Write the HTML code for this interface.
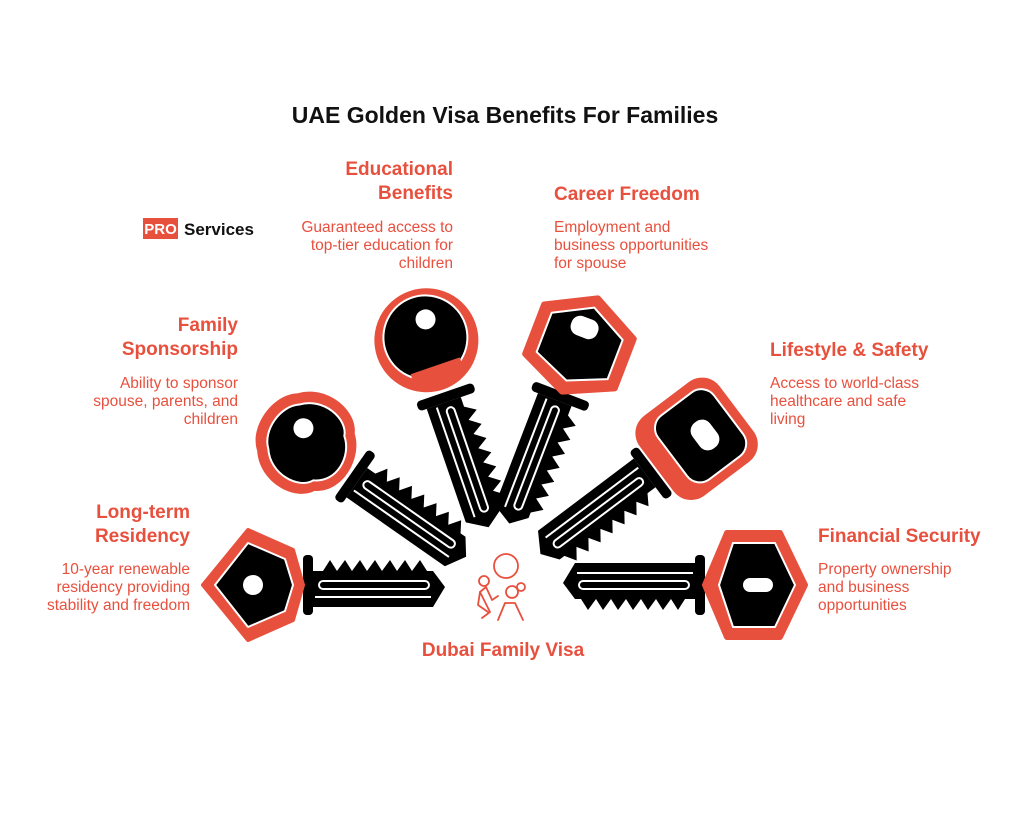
<!DOCTYPE html>
<html><head><meta charset="utf-8"><style>
html,body{margin:0;padding:0;background:#fff;}
svg{display:block;}
text{font-family:"Liberation Sans",sans-serif;}
.h{fill:#e8503e;font-size:19px;font-weight:bold;}
.b{fill:#e8503e;font-size:15.5px;}
</style></head><body>
<svg width="1009" height="826" viewBox="0 0 1009 826" xmlns="http://www.w3.org/2000/svg">
<defs>
<g id="blade">
  <rect x="50" y="-30" width="10" height="60" rx="4" fill="#000"/>
  <path d="M60,-14 L70,-14 L77,-25 L84,-14 L92,-25 L99,-14 L107,-25 L114,-14 L122,-25 L129,-14 L137,-25 L144,-14 L152,-25 L159,-14 L167,-25 L174,-14 L180,-14 L192,2 L180,22 L60,22 Z" fill="#000"/>
  <rect x="66" y="-4" width="110" height="8" rx="4" fill="none" stroke="#fff" stroke-width="2"/>
  <line x1="62" y1="12" x2="178" y2="12" stroke="#fff" stroke-width="2"/>
</g>
</defs>

<text x="505" y="123" text-anchor="middle" font-size="23" font-weight="bold" fill="#111">UAE Golden Visa Benefits For Families</text>

<!-- logo -->
<rect x="143" y="218" width="35" height="21" fill="#e8503e"/>
<text x="160.5" y="234" text-anchor="middle" font-size="15" font-weight="bold" fill="#fff">PRO</text>
<text x="184" y="235" font-size="17" font-weight="bold" fill="#111">Services</text>

<!-- texts -->
<text class="h" x="453" y="175" text-anchor="end">Educational</text>
<text class="h" x="453" y="199" text-anchor="end">Benefits</text>
<text class="b" x="453" y="232" text-anchor="end">Guaranteed access to</text>
<text class="b" x="453" y="250" text-anchor="end">top-tier education for</text>
<text class="b" x="453" y="268" text-anchor="end">children</text>

<text class="h" x="554" y="200">Career Freedom</text>
<text class="b" x="554" y="232">Employment and</text>
<text class="b" x="554" y="250">business opportunities</text>
<text class="b" x="554" y="268">for spouse</text>

<text class="h" x="238" y="331" text-anchor="end">Family</text>
<text class="h" x="238" y="355" text-anchor="end">Sponsorship</text>
<text class="b" x="238" y="388" text-anchor="end">Ability to sponsor</text>
<text class="b" x="238" y="406" text-anchor="end">spouse, parents, and</text>
<text class="b" x="238" y="424" text-anchor="end">children</text>

<text class="h" x="770" y="356">Lifestyle &amp; Safety</text>
<text class="b" x="770" y="388">Access to world-class</text>
<text class="b" x="770" y="406">healthcare and safe</text>
<text class="b" x="770" y="424">living</text>

<text class="h" x="190" y="518" text-anchor="end">Long-term</text>
<text class="h" x="190" y="542" text-anchor="end">Residency</text>
<text class="b" x="190" y="574" text-anchor="end">10-year renewable</text>
<text class="b" x="190" y="592" text-anchor="end">residency providing</text>
<text class="b" x="190" y="610" text-anchor="end">stability and freedom</text>

<text class="h" x="818" y="542">Financial Security</text>
<text class="b" x="818" y="574">Property ownership</text>
<text class="b" x="818" y="592">and business</text>
<text class="b" x="818" y="610">opportunities</text>

<text class="h" x="503" y="656" text-anchor="middle">Dubai Family Visa</text>

<!-- key 1 bottom-left diamond -->
<g transform="translate(253,585) rotate(0)">
  <use href="#blade"/>
  <path d="M-50,0 L-5,-55 L40,-35 L50,0 L40,35 L-5,55 Z" fill="#e8503e" stroke="#e8503e" stroke-width="4" stroke-linejoin="round"/>
  <path d="M-38,0 L-5,-42 L32,-26 L40,0 L32,26 L-5,42 Z" fill="#000" stroke="#fff" stroke-width="2" stroke-linejoin="round"/>
  <circle cx="0" cy="0" r="10" fill="#fff"/>
</g>

<!-- key 2 trefoil -->
<g transform="translate(310,445) rotate(35)">
  <use href="#blade"/>
  <path d="M-40,-35 C-20,-60 20,-55 30,-35 C50,-20 55,20 30,35 C20,55 -20,60 -40,35 C-60,20 -60,-20 -40,-35 Z" fill="#e8503e"/>
  <path d="M-32,-27 C-16,-47 16,-43 23,-27 C40,-15 44,15 23,27 C16,43 -16,47 -32,27 C-47,15 -47,-15 -32,-27 Z" fill="#000" stroke="#fff" stroke-width="2"/>
  <circle cx="-15" cy="-10" r="10" fill="#fff"/>
</g>

<!-- key 3 circle -->
<g transform="translate(428,345) rotate(71)">
  <use href="#blade"/>
  <circle cx="-5" cy="0" r="52" fill="#e8503e"/>
  <circle cx="-8" cy="0" r="42" fill="#000" stroke="#fff" stroke-width="2"/>
  <rect x="22" y="-26" width="18" height="52" fill="#e8503e"/>
  <circle cx="-25" cy="-6" r="10" fill="#fff"/>
</g>

<!-- key 4 hexagon -->
<g transform="translate(580,345) rotate(111)">
  <use href="#blade"/>
  <path d="M-50,0 L-25,-48 L28,-48 L50,0 L28,48 L-25,48 Z" fill="#e8503e" stroke="#e8503e" stroke-width="6" stroke-linejoin="round"/>
  <path d="M-40,0 L-20,-38 L22,-38 L38,0 L22,38 L-20,38 Z" fill="#000" stroke="#fff" stroke-width="2" stroke-linejoin="round"/>
  <rect x="-28" y="-12" width="20" height="28" rx="9" fill="#fff"/>
</g>

<!-- key 5 rounded rect -->
<g transform="translate(695,440) rotate(143)">
  <use href="#blade"/>
  <rect x="-52" y="-50" width="100" height="100" rx="22" fill="#e8503e"/>
  <rect x="-42" y="-40" width="70" height="80" rx="16" fill="#000" stroke="#fff" stroke-width="2"/>
  <rect x="-22" y="-18" width="22" height="32" rx="10" fill="#fff"/>
</g>

<!-- key 6 bottom-right hexagon -->
<g transform="translate(755,585) rotate(180)">
  <use href="#blade"/>
  <path d="M-50,0 L-25,-52 L28,-52 L50,0 L28,52 L-25,52 Z" fill="#e8503e" stroke="#e8503e" stroke-width="6" stroke-linejoin="round"/>
  <path d="M-40,0 L-20,-42 L22,-42 L36,0 L22,42 L-20,42 Z" fill="#000" stroke="#fff" stroke-width="2" stroke-linejoin="round"/>
  <rect x="-18" y="-7" width="30" height="14" rx="7" fill="#fff"/>
</g>

<!-- family icon -->
<g fill="none" stroke="#e8503e" stroke-width="1.8" stroke-linecap="round" stroke-linejoin="round">
  <circle cx="506" cy="566" r="12"/>
  <circle cx="484" cy="581" r="5"/>
  <path d="M486,587 L480,592 L490,612 L482,618 M486,587 L492,600 L498,596"/>
  <path d="M480,592 L478,605 L488,612"/>
  <circle cx="512" cy="592" r="6"/>
  <circle cx="521" cy="587" r="4"/>
  <path d="M498,620 L505,603 L515,603 L523,620"/>
</g>
</svg>
</body></html>
